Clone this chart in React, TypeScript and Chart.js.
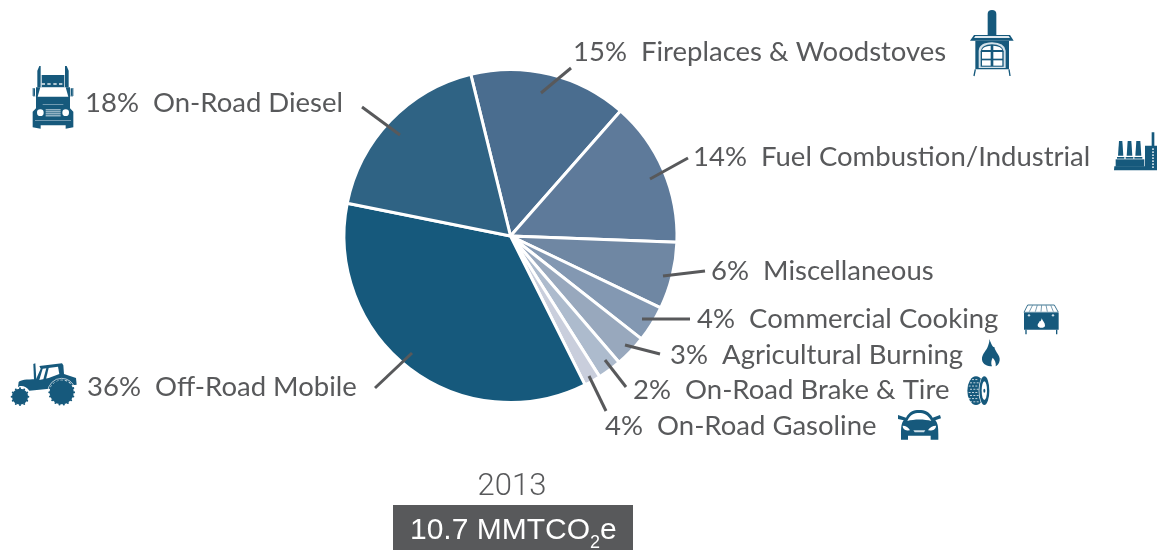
import React, { useEffect, useRef } from "react";
import { Chart, registerables } from "chart.js";

Chart.register(...registerables);

// ---- data ----
const categories = [
  "Fireplaces & Woodstoves",
  "Fuel Combustion/Industrial",
  "Miscellaneous",
  "Commercial Cooking",
  "Agricultural Burning",
  "On-Road Brake & Tire",
  "On-Road Gasoline",
  "Off-Road Mobile",
  "On-Road Diesel",
];
const sliceValues = [15.3, 14.1, 6.5, 3.5, 3.1, 2.3, 1.6, 35.5, 18.0];
const printedPercents = ["15%", "14%", "6%", "4%", "3%", "2%", "4%", "36%", "18%"];
const sliceColors = ["#4a6d8f", "#5e7a9a", "#6f87a3", "#8398b2", "#98a8bd", "#adbbcd", "#c9cedc", "#16597c", "#2f6384"];
const yearLabel = "2013";
const totalLabel = ["10.7 MMTCO", "2", "e"];

// ---- annotation layout (same order as categories) ----
const labelAnchors = [
  [573, 61], [693, 166], [711, 280], [697, 328], [670, 364], [633, 399], [605, 435], [87, 396], [85, 112],
];
const leaders = [
  [571, 68, 541, 93], [688, 158, 650, 179], [705, 271, 663, 276], [690, 319, 642, 319], [660, 354, 625, 345],
  [626, 387, 605, 360], [606, 411, 589, 376], [375, 388, 412, 353], [362, 107, 400, 135],
];

const INK = "#58595b";
const ICON = "#16597c";
const LABEL_FONT = '27.5px Lato, sans-serif';

type Ctx = CanvasRenderingContext2D;

function inZoom(ctx: Ctx, ox: number, oy: number, draw: () => void) {
  ctx.save();
  ctx.translate(ox, oy);
  ctx.scale(1 / 3, 1 / 3);
  ctx.fillStyle = ICON;
  ctx.strokeStyle = ICON;
  ctx.lineJoin = "round";
  draw();
  ctx.restore();
}
const fillP = (ctx: Ctx, d: string, color?: string) => {
  if (color) ctx.fillStyle = color;
  ctx.fill(new Path2D(d));
};
const strokeP = (ctx: Ctx, d: string, w: number, color?: string) => {
  if (color) ctx.strokeStyle = color;
  ctx.lineWidth = w;
  ctx.stroke(new Path2D(d));
};
const dot = (ctx: Ctx, x: number, y: number, r: number, color: string) => {
  ctx.fillStyle = color;
  ctx.beginPath();
  ctx.arc(x, y, r, 0, Math.PI * 2);
  ctx.fill();
};
const oval = (ctx: Ctx, x: number, y: number, rx: number, ry: number, color: string) => {
  ctx.fillStyle = color;
  ctx.beginPath();
  ctx.ellipse(x, y, rx, ry, 0, 0, Math.PI * 2);
  ctx.fill();
};

function truck(ctx: Ctx) {
  inZoom(ctx, 0, 50, () => {
    fillP(ctx, "M112,62 L118,48 L122,48 L122,112 L112,112 Z M195,48 L200,48 L206,62 L206,112 L195,112 Z");
    fillP(ctx, "M125,75 L193,75 L193,112 L125,112 Z");
    fillP(ctx, "M108,112 L210,112 L210,175 L220,185 L220,232 L197,236 L197,226 L122,226 L122,236 L98,232 L98,185 L108,175 Z");
    fillP(ctx, "M100,115 L105,115 L105,137 L100,137 Z M212,115 L218,115 L218,137 L212,137 Z");
    strokeP(ctx, "M99,114 L99,138 L106,138 M219,114 L219,138 L211,138", 2);
    ctx.fillStyle = "#fff";
    [125, 142, 160, 177].forEach((x) => ctx.fillRect(x, 100, 10, 4));
    fillP(ctx, "M121,112 L197,112 L205,140 L113,140 Z", "#fff");
    dot(ctx, 121, 188, 10, "#fff");
    dot(ctx, 197, 188, 10, "#fff");
    ctx.fillStyle = "#cfdfe8";
    [178, 184, 190, 196].forEach((y) => ctx.fillRect(137, y, 45, 3));
    ctx.fillStyle = "#9fbccc";
    ctx.fillRect(128, 162, 62, 2);
    ctx.fillRect(105, 210, 108, 2);
  });
}

function tractor(ctx: Ctx) {
  inZoom(ctx, 0, 350, () => {
    fillP(ctx, "M100,42 L106,40 L109,90 L102,90 Z");
    fillP(ctx, "M118,48 L186,40 L190,46 L192,72 L228,84 L230,104 L218,106 C205,84 165,80 148,116 L88,122 C80,108 60,104 54,112 L56,96 C62,90 78,88 108,88 L122,56 Z");
    fillP(ctx, "M128,56 L174,50 L178,72 L146,84 L118,90 Z", "#fff");
    fillP(ctx, "M139,54 L146,54 L138,88 L130,88 Z", ICON);
    dot(ctx, 185, 127, 36, ICON);
    dot(ctx, 60, 140, 24, ICON);
    for (let i = 0; i < 18; i++) {
      const a = (i / 18) * Math.PI * 2;
      dot(ctx, 185 + Math.cos(a) * 37, 127 + Math.sin(a) * 37, 3.2, ICON);
    }
    for (let i = 0; i < 12; i++) {
      const a = (i / 12) * Math.PI * 2;
      dot(ctx, 60 + Math.cos(a) * 25, 140 + Math.sin(a) * 25, 3, ICON);
    }
    ctx.strokeStyle = "#fff";
    ctx.lineWidth = 2;
    ctx.beginPath();
    ctx.arc(185, 127, 42, Math.PI * 1.0, Math.PI * 1.9);
    ctx.stroke();
  });
}

function stove(ctx: Ctx) {
  inZoom(ctx, 960, 0, () => {
    fillP(ctx, "M83,42 Q83,30 96,30 Q109,30 109,42 L109,106 L83,106 Z");
    fillP(ctx, "M42,105 L150,105 L161,122 L30,122 Z");
    fillP(ctx, "M46,108 L146,108 L150,114 L42,114 Z", "#dfe9ef");
    fillP(ctx, "M46,122 L147,122 L147,208 L46,208 Z", ICON);
    strokeP(ctx, "M46,208 L42,228 M147,208 L150,228", 4, ICON);
    fillP(ctx, "M56,204 L56,152 Q58,128 96,127 Q134,128 137,152 L137,204 Z", "#d4e2ea");
    fillP(ctx, "M62,200 L62,154 Q64,134 96,133 Q128,134 131,154 L131,200 Z", ICON);
    fillP(ctx, "M66,150 L92,150 L92,137 Q70,138 66,150 Z", "#fff");
    fillP(ctx, "M100,150 L127,150 Q123,138 100,137 Z", "#fff");
    ctx.fillStyle = "#fff";
    ctx.fillRect(66, 156, 26, 20);
    ctx.fillRect(100, 156, 27, 20);
    ctx.fillRect(66, 181, 26, 16);
    ctx.fillRect(100, 181, 27, 16);
  });
}

function factory(ctx: Ctx) {
  inZoom(ctx, 1100, 125, () => {
    fillP(ctx, "M43,124 L135,124 L135,62 L155,62 L155,22 L163,22 L163,62 L171,62 L171,136 L42,136 Z");
    fillP(ctx, "M47,103 L133,103 L133,125 L47,125 Z");
    [[57, 67], [83, 94], [109, 121]].forEach(([a, b]) => {
      fillP(ctx, `M${a},48 L${b},48 L${b + 3},92 L${a - 3},92 Z`);
      fillP(ctx, `M${a - 6},96 L${b + 6},96 L${b + 6},101 L${a - 6},101 Z`);
    });
    ctx.fillStyle = "#b8cfdb";
    for (let y = 70; y < 125; y += 9) ctx.fillRect(156, y, 6, 5);
  });
}

function grill(ctx: Ctx) {
  inZoom(ctx, 890, 295, () => {
    strokeP(ctx, "M413,30 L493,30 L505,52 L402,52 Z", 2.5, ICON);
    strokeP(ctx, "M428,30 L418,50 M442,30 L436,50 M455,30 L453,50 M468,30 L472,50 M482,30 L490,50", 2.5, "#5f8aa2");
    fillP(ctx, "M402,54 L506,54 L506,104 L402,104 Z", ICON);
    strokeP(ctx, "M408,104 L408,118 M500,104 L500,118", 4, ICON);
    dot(ctx, 417, 61, 3.5, "#cfe0e9");
    dot(ctx, 489, 61, 3.5, "#cfe0e9");
    fillP(ctx, "M455,70 C458,78 466,84 465,92 C464,100 445,100 443,92 C442,86 448,84 449,78 C452,81 454,76 455,70 Z", "#fff");
  });
}

function flame(ctx: Ctx) {
  inZoom(ctx, 890, 295, () => {
    fillP(ctx, "M298,132 C305,150 309,158 313,156 C316,172 331,180 329,196 C328,206 322,212 317,214 C319,204 314,194 308,188 C304,196 302,206 306,214 C292,214 278,208 276,194 C275,178 286,170 292,158 C295,150 299,142 298,132 Z");
  });
}

function tire(ctx: Ctx) {
  inZoom(ctx, 890, 295, () => {
    oval(ctx, 258, 287, 26, 43, ICON);
    ctx.fillStyle = "#fff";
    for (let r = 0; r < 8; r++) {
      for (let c = 0; c < 3; c++) {
        ctx.fillRect(236 + c * 10 + (r % 2) * 4, 253 + r * 9.5, 6, 2.2);
      }
    }
    oval(ctx, 283, 287, 17, 45, "#fff");
    oval(ctx, 283, 287, 15, 43, ICON);
    oval(ctx, 283, 287, 8, 28, "#fff");
    oval(ctx, 283, 287, 3, 6, ICON);
  });
}

function car(ctx: Ctx) {
  inZoom(ctx, 890, 295, () => {
    fillP(ctx, "M48,368 C58,350 70,345 87,345 C104,345 118,350 128,368 L150,360 L153,370 L136,376 C144,386 145,396 145,420 L145,434 L122,434 L122,422 L54,422 L54,434 L33,434 L33,420 C33,396 34,386 41,376 L24,372 L24,360 Z");
    fillP(ctx, "M52,378 C60,358 74,354 87,354 C100,354 114,358 124,378 C104,372 72,372 52,378 Z", "#fff");
    fillP(ctx, "M38,392 C48,392 56,398 60,406 C50,408 38,404 38,392 Z", "#fff");
    fillP(ctx, "M138,392 C128,392 118,398 114,406 C126,408 138,404 138,392 Z", "#fff");
    fillP(ctx, "M70,406 L106,406 L102,412 L74,412 Z", "#cfe0e9");
  });
}

const overlay = {
  id: "overlay",
  afterDatasetsDraw(chart: Chart) {
    const ctx = chart.ctx as Ctx;
    ctx.save();
    // leader lines
    ctx.strokeStyle = INK;
    ctx.lineWidth = 3;
    leaders.forEach(([x1, y1, x2, y2]) => {
      ctx.beginPath();
      ctx.moveTo(x1, y1);
      ctx.lineTo(x2, y2);
      ctx.stroke();
    });
    // labels
    ctx.fillStyle = INK;
    ctx.font = LABEL_FONT;
    ctx.textBaseline = "alphabetic";
    ctx.textAlign = "left";
    categories.forEach((name, i) => {
      const [x, y] = labelAnchors[i];
      ctx.fillText(`${printedPercents[i]}  ${name}`, x, y);
    });
    // year and total
    ctx.textAlign = "center";
    ctx.font = '300 31px Roboto, "Liberation Sans", sans-serif';
    ctx.fillText(yearLabel, 512, 495);
    ctx.fillStyle = INK;
    ctx.fillRect(393, 505, 240, 45);
    ctx.fillStyle = "#fff";
    ctx.textAlign = "left";
    ctx.font = '30px "Liberation Sans", sans-serif';
    ctx.fillText(totalLabel[0], 410, 539);
    const w = ctx.measureText(totalLabel[0]).width;
    ctx.font = '18px "Liberation Sans", sans-serif';
    ctx.fillText(totalLabel[1], 410 + w, 548);
    const w2 = ctx.measureText(totalLabel[1]).width;
    ctx.font = '30px "Liberation Sans", sans-serif';
    ctx.fillText(totalLabel[2], 410 + w + w2, 539);
    ctx.restore();
    truck(ctx);
    tractor(ctx);
    stove(ctx);
    factory(ctx);
    grill(ctx);
    flame(ctx);
    tire(ctx);
    car(ctx);
  },
};

export default function App() {
  const ref = useRef<HTMLCanvasElement | null>(null);
  useEffect(() => {
    const chart = new Chart(ref.current as HTMLCanvasElement, {
      type: "pie",
      data: {
        labels: categories,
        datasets: [
          {
            data: sliceValues,
            backgroundColor: sliceColors,
            borderColor: "#ffffff",
            borderWidth: 3,
          },
        ],
      },
      options: {
        responsive: false,
        animation: false,
        rotation: -13.8,
        layout: { padding: { left: 0, right: 141, top: 68, bottom: 146 } },
        plugins: { legend: { display: false }, tooltip: { enabled: false } },
      },
      plugins: [overlay],
    });
    return () => chart.destroy();
  }, []);
  return (
    <div style={{ position: "absolute", left: 0, top: 0, width: 1162, height: 550, background: "#fff" }}>
      <canvas ref={ref} width={1162} height={550} style={{ display: "block" }} />
    </div>
  );
}
